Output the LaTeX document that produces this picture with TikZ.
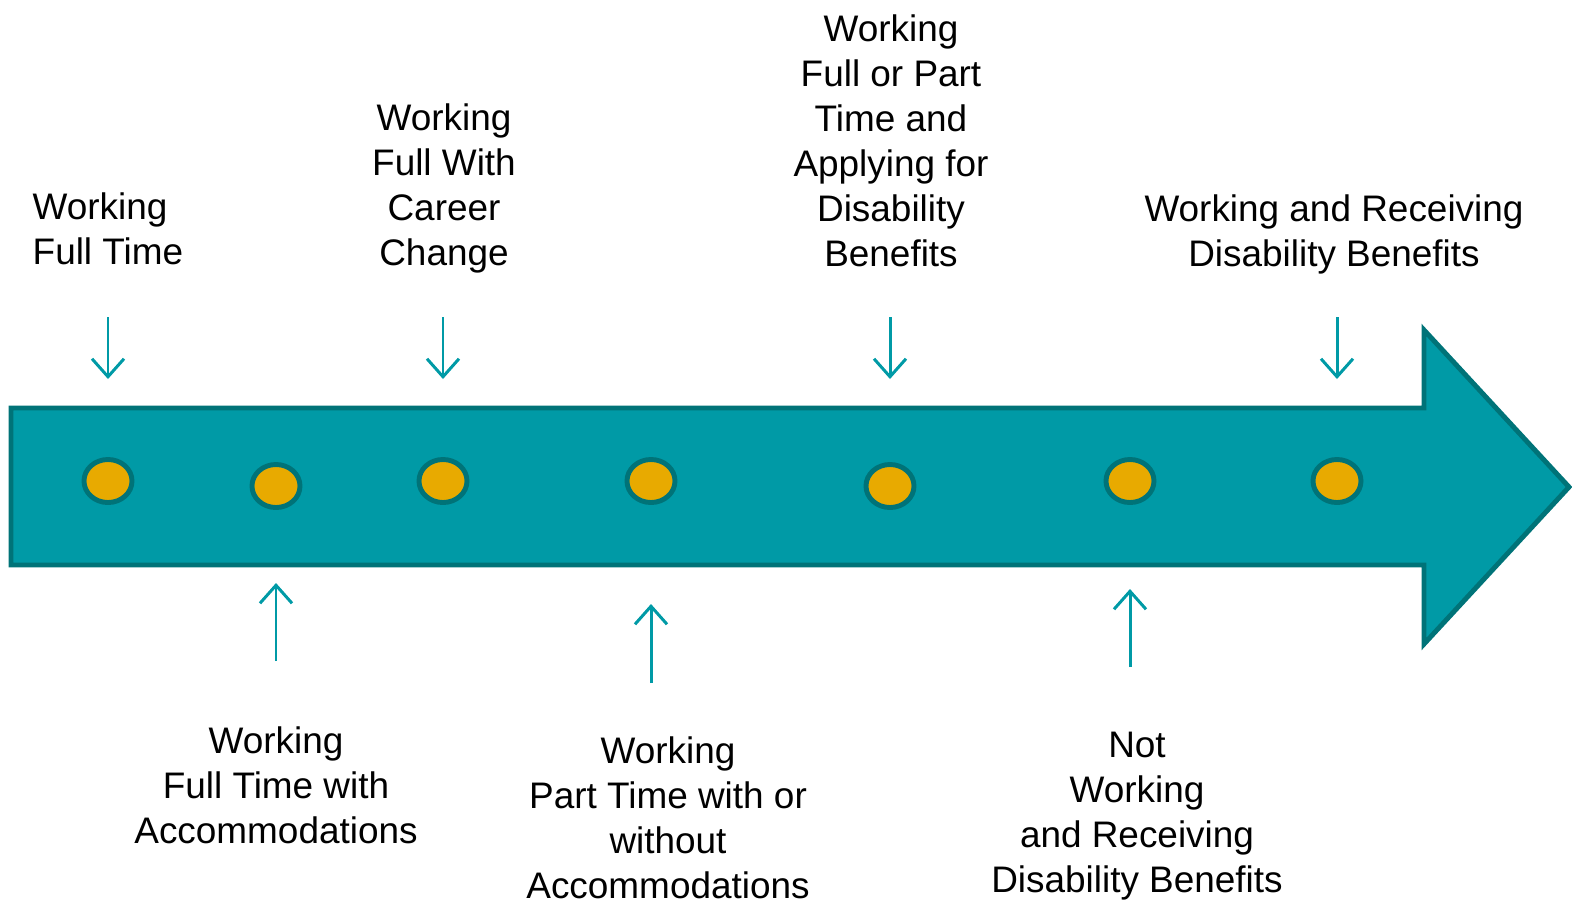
\documentclass[tikz,border=0pt]{standalone}
\usepackage{fontspec}
\setmainfont{Liberation Sans}
\usepackage{tikz}
\usetikzlibrary{arrows.meta, shapes.geometric}

\definecolor{teal1}{HTML}{009AA6}
\definecolor{tealdark}{HTML}{007378}
\definecolor{gold1}{HTML}{E8AA00}

\begin{document}
\begin{tikzpicture}[
    x=0.01cm, y=-0.01cm,
    lbl/.style={align=center, inner sep=0pt, font=\fontsize{10.5}{12.8}\selectfont},
    dot/.style={draw=tealdark, fill=gold1, ellipse, line width=1.4pt, minimum width=0.48cm, minimum height=0.43cm, inner sep=0pt},
    pointer/.style={draw=teal1, line width=0.85pt, -{Straight Barb[length=1.8mm, width=3.2mm]}},
  ]
    \useasboundingbox (0,0) rectangle (1572,899);

    % timeline arrow
    \draw[fill=teal1, draw=tealdark, line width=1.4pt, miter limit=20]
      (11,408) -- (1424,408) -- (1424,330) -- (1569,487) -- (1424,644)
      -- (1424,565) -- (11,565) -- cycle;

    \node[dot] (d1) at (108,481) {};
    \node[dot] (d2) at (276,486) {};
    \node[dot] (d3) at (443,481) {};
    \node[dot] (d4) at (651,481) {};
    \node[dot] (d5) at (890,486) {};
    \node[dot] (d6) at (1130,481) {};
    \node[dot] (d7) at (1337,481) {};

    \node[lbl, align=left, anchor=west] (fulltime) at (32,229) {Working\\Full Time};
    \node[lbl] (career) at (444,188) {Working\\Full With\\Career\\Change};
    \node[lbl] (applying) at (891,141) {Working\\Full or Part\\Time and\\Applying for\\Disability\\Benefits};
    \node[lbl] (receiving) at (1334,234) {Working and Receiving\\Disability Benefits};
    \node[lbl] (accom) at (276,785) {Working\\Full Time with\\Accommodations};
    \node[lbl] (parttime) at (668,818) {Working\\Part Time with or\\without\\Accommodations};
    \node[lbl] (notwork) at (1137,816) {Not\\Working\\and Receiving\\Disability Benefits};

    \coordinate (a1s) at (108,317);  \coordinate (a1e) at (108,379);
    \coordinate (a3s) at (443,317);  \coordinate (a3e) at (443,379);
    \coordinate (a5s) at (890,317);  \coordinate (a5e) at (890,379);
    \coordinate (a7s) at (1337,317); \coordinate (a7e) at (1337,379);
    \coordinate (a2s) at (276,661);  \coordinate (a2e) at (276,583);
    \coordinate (a4s) at (651,683);  \coordinate (a4e) at (651,604);
    \coordinate (a6s) at (1130,667); \coordinate (a6e) at (1130,589);

    \draw[pointer] (a1s) -- (a1e);
    \draw[pointer] (a3s) -- (a3e);
    \draw[pointer] (a5s) -- (a5e);
    \draw[pointer] (a7s) -- (a7e);
    \draw[pointer] (a2s) -- (a2e);
    \draw[pointer] (a4s) -- (a4e);
    \draw[pointer] (a6s) -- (a6e);
  \end{tikzpicture}
\end{document}
